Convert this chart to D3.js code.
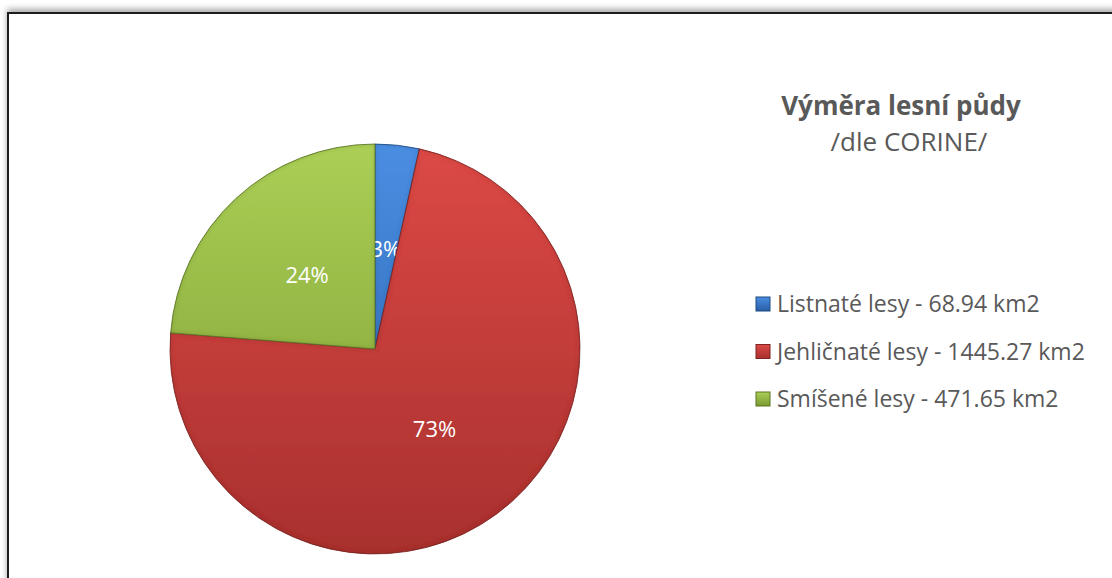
<!DOCTYPE html>
<html>
<head>
<meta charset="utf-8">
<script src="https://cdn.jsdelivr.net/npm/d3@7"></script>
<style>
  body { margin: 0; background: #fff; }
  svg { display: block; }
</style>
</head>
<body>
<div id="chart"></div>
<script>
// Data
const categories = ["Listnaté lesy", "Jehličnaté lesy", "Smíšené lesy"]
const areas = [68.94, 1445.27, 471.65]
const units = "km2"

const titleText = "Výměra lesní půdy"
const subtitleText = "/dle CORINE/"

const sliceColors = {
    light: ["#4a8ee2", "#dc4946", "#abcf56"],
    dark: ["#2a5ea6", "#a8302e", "#7a9a32"],
    edge: ["#1f4a80", "#7e2422", "#5a7424"],
}

const dimensions = {
    width: 1112,
    height: 578,
    cx: 375,
    cy: 349,
    radius: 205,
}

const svg = d3.select("#chart")
    .append("svg")
        .attr("width", dimensions.width)
        .attr("height", dimensions.height)

const defs = svg.append("defs")

// Frame shadow + border
const shadow = defs.append("filter")
    .attr("id", "frame-shadow")
    .attr("x", "-5%").attr("y", "-5%")
    .attr("width", "110%").attr("height", "110%")
shadow.append("feGaussianBlur")
    .attr("in", "SourceAlpha")
    .attr("stdDeviation", 3)
shadow.append("feOffset")
    .attr("dy", -3)
    .attr("result", "off")
shadow.append("feComponentTransfer")
    .append("feFuncA").attr("type", "linear").attr("slope", 0.35)
const merge = shadow.append("feMerge")
merge.append("feMergeNode")
merge.append("feMergeNode").attr("in", "SourceGraphic")

svg.append("rect")
    .attr("x", 8)
    .attr("y", 13)
    .attr("width", 1200)
    .attr("height", 700)
    .attr("fill", "#fff")
    .attr("stroke", "#1a1a1a")
    .attr("stroke-width", 2)
    .attr("filter", "url(#frame-shadow)")

// Gradients for the slices (top light -> bottom dark)
categories.forEach((c, i) => {
    const g = defs.append("linearGradient")
        .attr("id", `slice-grad-${i}`)
        .attr("gradientUnits", "userSpaceOnUse")
        .attr("x1", 0)
        .attr("y1", -dimensions.radius)
        .attr("x2", 0)
        .attr("y2", dimensions.radius)
    g.append("stop").attr("offset", "0%").attr("stop-color", sliceColors.light[i])
    g.append("stop").attr("offset", "100%").attr("stop-color", sliceColors.dark[i])

    const lg = defs.append("linearGradient")
        .attr("id", `legend-grad-${i}`)
        .attr("x1", 0).attr("y1", 0).attr("x2", 0).attr("y2", 1)
    lg.append("stop").attr("offset", "0%").attr("stop-color", sliceColors.light[i])
    lg.append("stop").attr("offset", "100%").attr("stop-color", sliceColors.dark[i])
})

// soft inner bevel: blurred edge darkening
const bevel = defs.append("filter").attr("id", "bevel")
bevel.append("feGaussianBlur")
    .attr("in", "SourceAlpha")
    .attr("stdDeviation", 2.5)
    .attr("result", "blur")
bevel.append("feComposite")
    .attr("in", "SourceAlpha")
    .attr("in2", "blur")
    .attr("operator", "arithmetic")
    .attr("k1", 0).attr("k2", 1).attr("k3", -1).attr("k4", 0)
    .attr("result", "rim")
bevel.append("feFlood").attr("flood-color", "#000").attr("flood-opacity", 0.35)
bevel.append("feComposite").attr("in2", "rim").attr("operator", "in").attr("result", "rimShade")
const bm = bevel.append("feMerge")
bm.append("feMergeNode").attr("in", "SourceGraphic")
bm.append("feMergeNode").attr("in", "rimShade")

// Pie
const total = d3.sum(areas)
const pie = d3.pie().sort(null).value(d => d)
const arcs = pie(areas)

const arcGenerator = d3.arc()
    .innerRadius(0)
    .outerRadius(dimensions.radius)

const pieGroup = svg.append("g")
    .attr("transform", `translate(${dimensions.cx}, ${dimensions.cy})`)

const sliceGroups = pieGroup.selectAll("g.slice")
    .data(arcs)
    .enter()
    .append("g")
        .attr("class", "slice")

sliceGroups.append("path")
    .attr("d", arcGenerator)
    .attr("fill", (d, i) => `url(#slice-grad-${i})`)
    .attr("stroke", (d, i) => sliceColors.edge[i])
    .attr("stroke-width", 0.8)
    .attr("filter", "url(#bevel)")

// Percent labels
const labelArc = d3.arc()
    .innerRadius(100)
    .outerRadius(100)

sliceGroups.append("text")
    .attr("transform", d => `translate(${labelArc.centroid(d)})`)
    .attr("text-anchor", "middle")
    .attr("dy", "0.35em")
    .attr("fill", "#ffffff")
    .style("font-family", "'Open Sans', sans-serif")
    .style("font-size", "22px")
    .text(d => `${Math.round(d.value / total * 100)}%`)

// Title
svg.append("text")
    .attr("x", 901)
    .attr("y", 115)
    .attr("text-anchor", "middle")
    .attr("fill", "#595959")
    .style("font-family", "'Open Sans', sans-serif")
    .style("font-weight", 700)
    .style("font-size", "26px")
    .text(titleText)

svg.append("text")
    .attr("x", 909)
    .attr("y", 151)
    .attr("text-anchor", "middle")
    .attr("fill", "#595959")
    .style("font-family", "'Open Sans', sans-serif")
    .style("font-size", "26px")
    .text(subtitleText)

// Legend
const legend = svg.append("g")
    .attr("transform", "translate(756, 304)")

const legendItems = legend.selectAll("g")
    .data(categories)
    .enter()
    .append("g")
        .attr("transform", (d, i) => `translate(0, ${i * 47.5})`)

legendItems.append("rect")
    .attr("x", 0)
    .attr("y", -7)
    .attr("width", 14)
    .attr("height", 14)
    .attr("fill", (d, i) => `url(#legend-grad-${i})`)
    .attr("stroke", (d, i) => sliceColors.edge[i])
    .attr("stroke-width", 1)

legendItems.append("text")
    .attr("x", 21)
    .attr("y", 0)
    .attr("dy", "0.35em")
    .attr("fill", "#595959")
    .style("font-family", "'Open Sans', sans-serif")
    .style("font-size", "23px")
    .text((d, i) => `${d} - ${areas[i]} ${units}`)
</script>
</body>
</html>
